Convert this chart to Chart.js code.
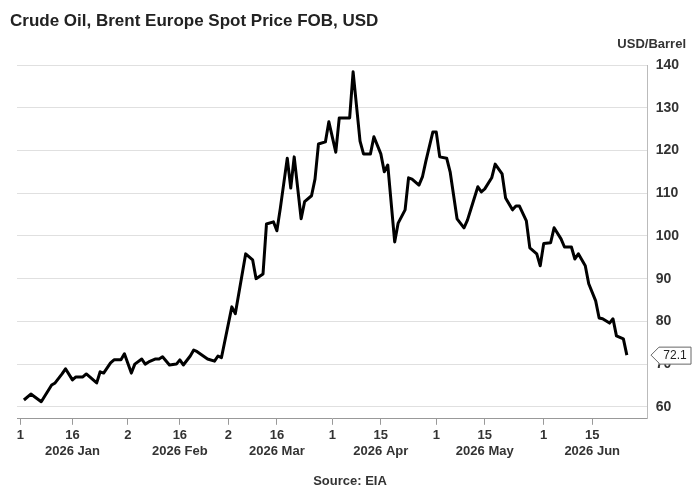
<!DOCTYPE html>
<html><head><meta charset="utf-8">
<script src="https://cdn.jsdelivr.net/npm/chart.js@4"></script>
<style>html,body{margin:0;padding:0;background:#fff}#w{width:700px;height:500px;position:relative}</style>
</head><body><div id="w"><canvas id="c"></canvas></div>
<script>
const chartTitle = "Crude Oil, Brent Europe Spot Price FOB, USD";
const unitLabel = "USD/Barrel";
const sourceText = "Source: EIA";
// day offsets from 2026-01-01
const days = [1,3,6,9,10,12,13,15,16,18, 19,22,23,24,26,27,29,30,32,33, 35,36,37,39,40,41,43,45,46,47, 49,50,51,54,56,57,58,61,62,65, 67,68,70,71,73,74,75,77,78,79, 81,82,84,85,86,88,89,91,92,95, 96,98,99,101,102,104,105,106,108,109, 111,112,113,115,116,117,119,120,121,123, 124,126,128,129,130,132,133,134,136,137, 139,140,142,143,144,146,147,149,150,151, 153,154,156,157,159,160,161,163,164,166, 167,168,170,171,172,174,175];
const prices = [61.6,63.0,61.2,65.1,65.6,67.7,68.9,66.3,67.0,67.0, 67.7,65.6,68.2,67.9,70.3,71.0,71.0,72.4,67.9,70.0, 71.2,70.0,70.5,71.2,71.2,71.7,69.8,70.0,71.0,69.8, 71.9,73.3,72.9,71.2,70.7,71.9,71.5,83.4,81.8,95.8, 94.4,90.0,91.1,102.8,103.3,101.2,106.5,118.2,111.2,118.5, 104.0,108.0,109.4,113.3,121.5,122.0,126.7,119.6,127.6,127.6, 138.4,122.2,119.2,119.2,123.2,119.2,115.0,116.6,98.6,103.0, 106.1,113.6,113.3,111.9,113.8,117.5,124.3,124.3,118.5,118.2, 115.0,104.0,101.9,103.7,106.3,111.5,110.3,111.0,113.6,116.8, 114.5,108.9,106.1,107.0,107.0,103.5,97.2,95.8,93.0,98.2, 98.4,101.9,99.3,97.4,97.4,94.6,95.8,93.0,88.8,84.8, 80.8,80.6,79.6,80.6,76.6,75.9,72.1];
const tickDays = [0,15,31,46,60,74,90,104,120,134,151,165];
const tickLabels = [["1",""],["16","2026 Jan"],["2",""],["16","2026 Feb"],["2",""],["16","2026 Mar"],["1",""],["15","2026 Apr"],["1",""],["15","2026 May"],["1",""],["15","2026 Jun"]];
const yTicks = [60,70,80,90,100,110,120,130,140];
const pts = days.map((d,i)=>({x:d,y:prices[i]}));

const deco = {
  id:'deco',
  afterDraw(ch){
    const c=ch.ctx; c.save();
    c.fillStyle='#222'; c.font='bold 17px "Liberation Sans", Arial'; c.textBaseline='alphabetic'; c.textAlign='left';
    c.fillText(chartTitle,10,26);
    c.font='bold 13px "Liberation Sans", Arial'; c.fillStyle='#333'; c.textAlign='right';
    c.fillText(unitLabel,686,48);
    c.textAlign='center'; c.fillText(sourceText,350,485);
    const last=pts[pts.length-1];
    const y=ch.scales.y.getPixelForValue(last.y);
    const x0=651;
    c.beginPath(); c.moveTo(x0,y); c.lineTo(x0+8,y-8); c.lineTo(x0+40,y-8); c.lineTo(x0+40,y+9); c.lineTo(x0+8,y+9); c.lineTo(x0+8,y+8); c.closePath();
    c.fillStyle='#fff'; c.fill(); c.strokeStyle='#666'; c.lineWidth=1; c.stroke();
    c.fillStyle='#222'; c.font='12px "Liberation Sans", Arial'; c.textAlign='center'; c.textBaseline='middle';
    c.fillText(last.y.toFixed(1),x0+24,y+1);
    c.restore();
  }
};

new Chart(document.getElementById('c'),{
  type:'line',
  data:{datasets:[{data:pts,borderColor:'#000',borderWidth:3,pointRadius:0,tension:0,borderJoinStyle:'round'}]},
  options:{
    responsive:true,maintainAspectRatio:false,animation:false,
    layout:{padding:{left:17,right:13,top:65,bottom:38}},
    plugins:{legend:{display:false},tooltip:{enabled:false}},
    scales:{
      x:{type:'linear',min:-1,max:181,
        afterBuildTicks(s){s.ticks=tickDays.map(v=>({value:v}));},
        ticks:{autoSkip:false,maxRotation:0,color:'#333',font:{family:'"Liberation Sans", Arial',weight:'bold',size:13},
          callback:(v)=>{const i=tickDays.indexOf(v);return i>=0?tickLabels[i]:'';}},
        grid:{drawOnChartArea:false,drawTicks:true,tickLength:6,color:'#999'},
        border:{color:'#999'}
      },
      y:{position:'right',min:57.2,max:140,
        afterBuildTicks(s){s.ticks=yTicks.map(v=>({value:v}));},
        ticks:{color:'#333',padding:8,font:{family:'"Liberation Sans", Arial',weight:'bold',size:14}},
        grid:{color:'#e0e0e0',drawTicks:false},
        border:{color:'#bbb'}
      }
    }
  },
  plugins:[deco]
});
</script></body></html>
